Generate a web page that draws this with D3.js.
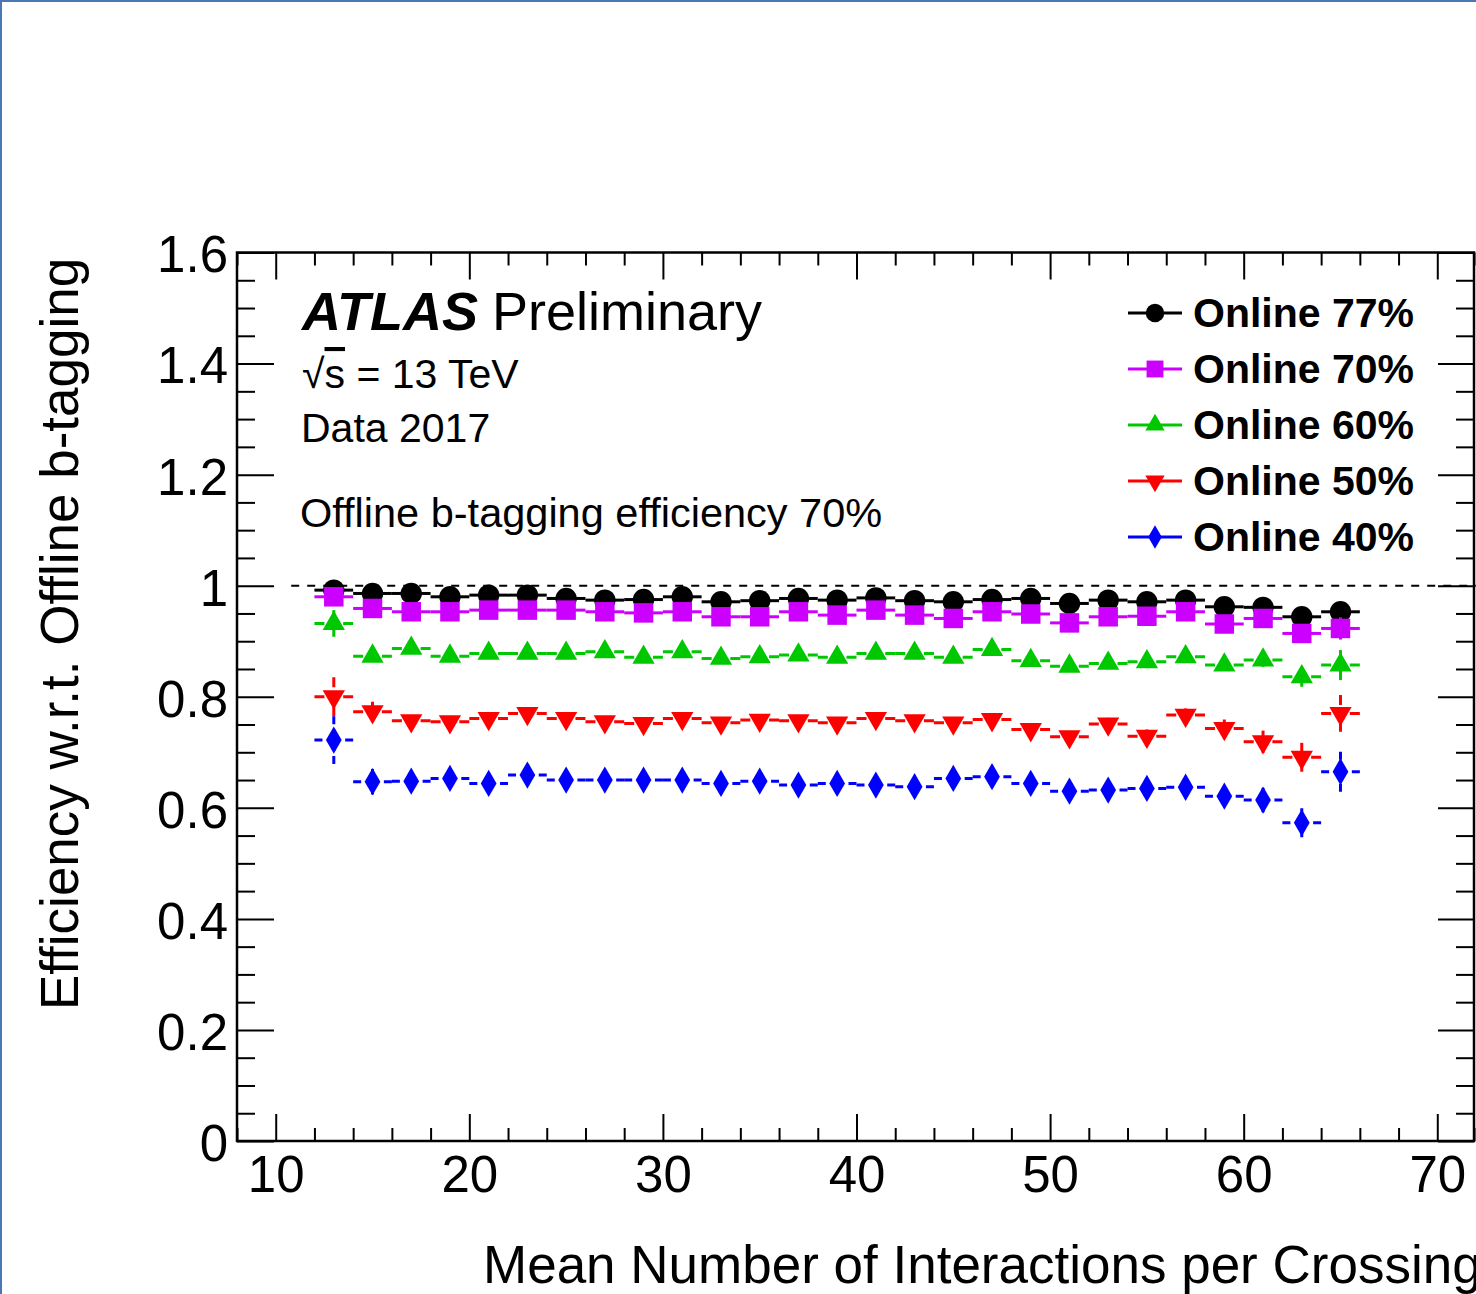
<!DOCTYPE html>
<html>
<head>
<meta charset="utf-8">
<script src="https://cdn.jsdelivr.net/npm/d3@7"></script>
<style>
  body { margin: 0; background: #fff; }
  svg { display: block; }
  text { font-family: "Liberation Sans", Arial, Helvetica, sans-serif; fill: #000; }
</style>
</head>
<body>
<svg id="chart" width="1476" height="1294"></svg>
<script>
// bin centres (mean number of interactions), bins are 2 wide
const mu = [13, 15, 17, 19, 21, 23, 25, 27, 29, 31, 33, 35, 37, 39, 41, 43, 45, 47, 49, 51, 53, 55, 57, 59, 61, 63, 65];

const eff77 = [0.992, 0.986, 0.986, 0.980, 0.983, 0.983, 0.977, 0.974, 0.975, 0.980, 0.971, 0.973, 0.977, 0.974,
  0.978, 0.973, 0.971, 0.975, 0.977, 0.968, 0.974, 0.971, 0.974, 0.962, 0.961, 0.944, 0.953];
const err77 = [0.006, 0.004, 0.004, 0.004, 0.004, 0.004, 0.004, 0.004, 0.004, 0.004, 0.004, 0.004, 0.004, 0.004,
  0.004, 0.004, 0.004, 0.004, 0.004, 0.004, 0.004, 0.005, 0.005, 0.005, 0.006, 0.008, 0.008];

const eff70 = [0.980, 0.959, 0.953, 0.953, 0.956, 0.956, 0.956, 0.953, 0.951, 0.953, 0.944, 0.944, 0.953, 0.947,
  0.956, 0.947, 0.941, 0.953, 0.949, 0.933, 0.944, 0.945, 0.953, 0.931, 0.941, 0.914, 0.923];
const err70 = [0.008, 0.005, 0.005, 0.005, 0.005, 0.005, 0.005, 0.005, 0.005, 0.005, 0.005, 0.005, 0.005, 0.005,
  0.005, 0.005, 0.005, 0.005, 0.005, 0.005, 0.006, 0.006, 0.006, 0.007, 0.008, 0.012, 0.020];

const eff60 = [0.932, 0.873, 0.887, 0.873, 0.878, 0.878, 0.878, 0.881, 0.871, 0.881, 0.869, 0.872, 0.875, 0.871,
  0.878, 0.878, 0.871, 0.885, 0.865, 0.855, 0.860, 0.863, 0.872, 0.857, 0.866, 0.836, 0.857];
const err60 = [0.024, 0.010, 0.007, 0.007, 0.007, 0.007, 0.007, 0.007, 0.007, 0.007, 0.007, 0.007, 0.007, 0.007,
  0.007, 0.007, 0.007, 0.007, 0.007, 0.007, 0.008, 0.008, 0.008, 0.009, 0.012, 0.018, 0.027];

const eff50 = [0.800, 0.773, 0.757, 0.755, 0.761, 0.770, 0.761, 0.755, 0.752, 0.761, 0.753, 0.758, 0.757, 0.753,
  0.761, 0.757, 0.753, 0.759, 0.741, 0.728, 0.751, 0.729, 0.767, 0.743, 0.719, 0.691, 0.770];
const err50 = [0.035, 0.018, 0.010, 0.009, 0.009, 0.009, 0.009, 0.009, 0.009, 0.009, 0.009, 0.009, 0.009, 0.009,
  0.009, 0.009, 0.009, 0.009, 0.010, 0.010, 0.011, 0.012, 0.012, 0.016, 0.020, 0.026, 0.033];

const eff40 = [0.722, 0.647, 0.648, 0.653, 0.644, 0.659, 0.650, 0.650, 0.650, 0.650, 0.644, 0.648, 0.641, 0.644,
  0.641, 0.638, 0.653, 0.656, 0.644, 0.630, 0.632, 0.635, 0.637, 0.621, 0.614, 0.573, 0.665];
const err40 = [0.043, 0.023, 0.012, 0.011, 0.011, 0.011, 0.011, 0.011, 0.011, 0.011, 0.011, 0.011, 0.011, 0.011,
  0.011, 0.011, 0.011, 0.011, 0.012, 0.013, 0.013, 0.014, 0.015, 0.017, 0.022, 0.026, 0.036];

const legendLabels = ['Online 77%', 'Online 70%', 'Online 60%', 'Online 50%', 'Online 40%'];
const xMajorTicks = [10, 20, 30, 40, 50, 60, 70];
const yMajorTicks = [0, 0.2, 0.4, 0.6, 0.8, 1, 1.2, 1.4, 1.6];

const series = [
  { label: legendLabels[0], values: eff77, errors: err77, color: '#000000', symbol: d3.symbolCircle, size: 360, rotate: 0, dash: null },
  { label: legendLabels[1], values: eff70, errors: err70, color: '#cc00ff', symbol: d3.symbolSquare, size: 380, rotate: 0, dash: null },
  { label: legendLabels[2], values: eff60, errors: err60, color: '#00c800', symbol: d3.symbolTriangle, size: 215, rotate: 0, dash: '10,6' },
  { label: legendLabels[3], values: eff50, errors: err50, color: '#ff0000', symbol: d3.symbolTriangle, size: 215, rotate: 180, dash: '10,6' },
  { label: legendLabels[4], values: eff40, errors: err40, color: '#0000ff', symbol: d3.symbolDiamond, size: 215, rotate: 0, dash: '8,5' },
];

const svg = d3.select('#chart');

const frame = { left: 237, right: 1476, top: 252.5, bottom: 1141 };

const x = d3.scaleLinear().domain([8, 72]).range([frame.left, frame.right]);
const y = d3.scaleLinear().domain([0, 1.6]).range([frame.bottom, frame.top]);

// thin blue border of the original canvas
svg.append('line').attr('x1', 0).attr('y1', 1).attr('x2', 1476).attr('y2', 1)
  .attr('stroke', '#4a78b4').attr('stroke-width', 2);
svg.append('line').attr('x1', 1).attr('y1', 0).attr('x2', 1).attr('y2', 1294)
  .attr('stroke', '#4a78b4').attr('stroke-width', 2);

// axes: ticks point into the frame, on all four sides
const xMinor = d3.range(8, 73, 2).filter((d) => d % 10 !== 0);
const yMinor = d3.range(0, 1.601, 0.05).filter((d) => Math.abs(d * 5 - Math.round(d * 5)) > 1e-6);

function styleAxis(g) {
  g.select('.domain').remove();
  g.selectAll('.tick line').attr('stroke', '#000').attr('stroke-width', 2);
  g.selectAll('.tick text').style('font-size', '51px').attr('fill', '#000');
}

svg.append('g').attr('transform', `translate(0,${frame.bottom})`)
  .call(d3.axisBottom(x).tickValues(xMajorTicks).tickSize(-27).tickPadding(0).tickFormat(d3.format('d')))
  .call(styleAxis)
  .call((g) => g.selectAll('.tick text').attr('y', 51).attr('dy', 0));
svg.append('g').attr('transform', `translate(0,${frame.bottom})`)
  .call(d3.axisBottom(x).tickValues(xMinor).tickSize(-13).tickFormat(''))
  .call(styleAxis);
svg.append('g').attr('transform', `translate(0,${frame.top})`)
  .call(d3.axisTop(x).tickValues(xMajorTicks).tickSize(-27).tickFormat(''))
  .call(styleAxis);
svg.append('g').attr('transform', `translate(0,${frame.top})`)
  .call(d3.axisTop(x).tickValues(xMinor).tickSize(-13).tickFormat(''))
  .call(styleAxis);

svg.append('g').attr('transform', `translate(${frame.left},0)`)
  .call(d3.axisLeft(y).tickValues(yMajorTicks).tickSize(-37).tickPadding(0).tickFormat((d) => String(d)))
  .call(styleAxis)
  .call((g) => g.selectAll('.tick text').attr('x', -9).attr('dy', '0.38em'));
svg.append('g').attr('transform', `translate(${frame.left},0)`)
  .call(d3.axisLeft(y).tickValues(yMinor).tickSize(-18).tickFormat(''))
  .call(styleAxis);
svg.append('g').attr('transform', `translate(${frame.right - 2},0)`)
  .call(d3.axisRight(y).tickValues(yMajorTicks).tickSize(-36).tickFormat(''))
  .call(styleAxis);
svg.append('g').attr('transform', `translate(${frame.right - 2},0)`)
  .call(d3.axisRight(y).tickValues(yMinor).tickSize(-18).tickFormat(''))
  .call(styleAxis);

svg.append('rect')
  .attr('x', frame.left).attr('y', frame.top)
  .attr('width', frame.right - 2 - frame.left).attr('height', frame.bottom - frame.top)
  .attr('fill', 'none').attr('stroke', '#000').attr('stroke-width', 2.5);

// reference line at efficiency 1
svg.append('line')
  .attr('x1', x(10.8)).attr('x2', x(72)).attr('y1', y(1)).attr('y2', y(1))
  .attr('stroke', '#000').attr('stroke-width', 2).attr('stroke-dasharray', '8,8');

// data
const symbolGen = d3.symbol();
series.forEach((s) => {
  const pts = mu.map((m, i) => ({ m, v: s.values[i], e: s.errors[i] }));
  const g = svg.append('g');

  // error bars, drawn from the outer end towards the centre so the dash starts at the end
  pts.forEach((p) => {
    [-1, 1].forEach((side) => {
      g.append('line')
        .attr('x1', x(p.m + side)).attr('x2', x(p.m))
        .attr('y1', y(p.v)).attr('y2', y(p.v))
        .attr('stroke', s.color).attr('stroke-width', 3)
        .attr('stroke-dasharray', s.dash);
      g.append('line')
        .attr('x1', x(p.m)).attr('x2', x(p.m))
        .attr('y1', y(p.v + side * p.e)).attr('y2', y(p.v))
        .attr('stroke', s.color).attr('stroke-width', 3)
        .attr('stroke-dasharray', s.dash);
    });
  });

  g.selectAll('path.marker')
    .data(pts)
    .join('path')
    .attr('class', 'marker')
    .attr('d', symbolGen.type(s.symbol).size(s.size)())
    .attr('transform', (d) => `translate(${x(d.m)},${y(d.v)}) rotate(${s.rotate})`)
    .attr('fill', s.color);
});

// legend
const legend = svg.append('g');
series.forEach((s, i) => {
  const ly = 313 + i * 56;
  legend.append('line')
    .attr('x1', 1128).attr('x2', 1182).attr('y1', ly).attr('y2', ly)
    .attr('stroke', s.color).attr('stroke-width', 3);
  legend.append('path')
    .attr('d', d3.symbol().type(s.symbol).size(s.size * 0.75)())
    .attr('transform', `translate(1155,${ly}) rotate(${s.rotate})`)
    .attr('fill', s.color);
  legend.append('text')
    .attr('x', 1193).attr('y', ly + 14)
    .style('font-size', '41px').style('font-weight', 'bold')
    .text(s.label);
});

// labels
const atlas = svg.append('text').attr('x', 302).attr('y', 330).style('font-size', '54px');
atlas.append('tspan').style('font-weight', 'bold').style('font-style', 'italic').text('ATLAS');
atlas.append('tspan').attr('dx', 14).text('Preliminary');

const sqrt = svg.append('text').attr('x', 302).attr('y', 388).style('font-size', '41px');
sqrt.append('tspan').text('√');
sqrt.append('tspan').style('text-decoration', 'overline').text('s');
sqrt.append('tspan').text(' = 13 TeV');

svg.append('text').attr('x', 301).attr('y', 442).style('font-size', '41px').text('Data 2017');
svg.append('text').attr('x', 300).attr('y', 527).style('font-size', '41.5px').text('Offline b-tagging efficiency 70%');

svg.append('text')
  .attr('x', 483).attr('y', 1283)
  .style('font-size', '53px')
  .text('Mean Number of Interactions per Crossing');

svg.append('text')
  .attr('transform', 'translate(78,1010) rotate(-90)')
  .style('font-size', '53px')
  .text('Efficiency w.r.t. Offline b-tagging');
</script>
</body>
</html>
